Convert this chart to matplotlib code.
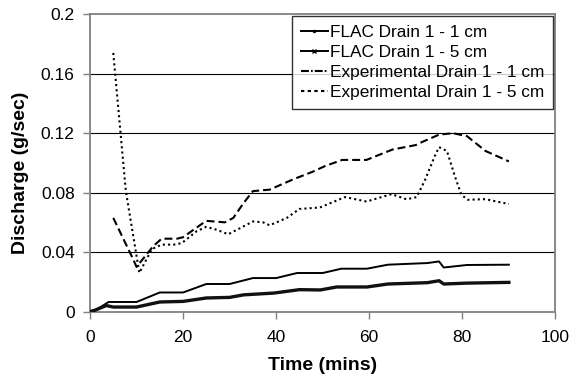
import matplotlib.pyplot as plt
from matplotlib.lines import Line2D

plt.rcParams['font.family'] = ['Liberation Sans', 'DejaVu Sans']

# FLAC model results
flac1_t = [0, 1, 4, 10, 15, 20, 25, 30, 35, 40, 44.5, 50, 54, 59.5, 64, 72.5, 75, 76, 81, 90]
flac1_v = [0, 0.0005, 0.0064, 0.0064, 0.0128, 0.0128, 0.0185, 0.0185, 0.0225, 0.0225,
           0.0259, 0.0259, 0.0288, 0.0288, 0.0315, 0.0326, 0.0337, 0.0296, 0.0313, 0.0315]

flac5_t = [0, 1, 3.5, 5, 10, 15, 20, 25, 30, 33, 39.5, 45, 49.5, 53, 59.5, 64, 72.5, 75, 76, 81, 90]
flac5_v = [0, 0.0008, 0.0040, 0.0030, 0.0030, 0.0064, 0.0068, 0.0091, 0.0095, 0.0112, 0.0124,
           0.0147, 0.0145, 0.0165, 0.0165, 0.0185, 0.0194, 0.0207, 0.0185, 0.0191, 0.0196]

# experimental results
exp1_t = [5, 9.3, 10, 13.6, 15.4, 18.7, 20, 23.6, 25, 29, 30.8, 33, 35, 38.6, 43.7, 47.8,
          50.6, 54.2, 59.4, 65, 70, 71.3, 75, 78, 81, 85, 90]
exp1_v = [0.063, 0.035, 0.030, 0.044, 0.049, 0.049, 0.050, 0.058, 0.061, 0.060, 0.063, 0.073,
          0.081, 0.082, 0.089, 0.094, 0.098, 0.102, 0.102, 0.109, 0.112, 0.114, 0.119, 0.120,
          0.118, 0.108, 0.101]

exp5_t = [5, 7.7, 10.6, 13.3, 15.4, 18, 19.7, 22.9, 25, 27.2, 29.7, 32.2, 35, 37.2, 38.6, 42.3,
          45, 49.4, 54.8, 59.4, 64.8, 68, 70.2, 72, 74, 75, 76.7, 78.4, 79.8, 81.2, 85, 90]
exp5_v = [0.174, 0.081, 0.026, 0.042, 0.045, 0.045, 0.046, 0.054, 0.057, 0.055, 0.052, 0.056,
          0.0606, 0.060, 0.058, 0.063, 0.069, 0.070, 0.077, 0.074, 0.079, 0.0755, 0.077, 0.0886,
          0.104, 0.1106, 0.108, 0.091, 0.0785, 0.0752, 0.0756, 0.0723]

labels = ['FLAC Drain 1 - 1 cm', 'FLAC Drain 1 - 5 cm',
          'Experimental Drain 1 - 1 cm', 'Experimental Drain 1 - 5 cm']
xticks = [0, 20, 40, 60, 80, 100]
yticks = [0, 0.04, 0.08, 0.12, 0.16, 0.2]
ytick_labels = ['0', '0.04', '0.08', '0.12', '0.16', '0.2']

fig = plt.figure(figsize=(5.78, 3.8), dpi=100)
ax = fig.add_axes([90 / 578, 1 - 311.5 / 380, (555.4 - 90) / 578, (311.5 - 14.3) / 380])

for y in yticks[1:-1]:
    ax.axhline(y, color='black', lw=0.8, zorder=1)

ax.plot(flac1_t, flac1_v, color='black', lw=1.4, zorder=3)
ax.plot(flac5_t, flac5_v, color='#111111', lw=2.4, zorder=3)
ax.plot(exp1_t, exp1_v, color='black', lw=1.5, dashes=(3.8, 1.9), zorder=3)
ax.plot(exp5_t, exp5_v, color='black', lw=1.5, dashes=(1.0, 1.5), zorder=3)

ax.set_xlim(0, 100)
ax.set_ylim(0, 0.2)
ax.set_xticks(xticks)
ax.set_xticklabels([str(x) for x in xticks])
ax.set_yticks(yticks)
ax.set_yticklabels(ytick_labels)
ax.tick_params(direction='out', length=5, width=1, color='#808080', labelsize=12.5)
ax.tick_params(axis='x', pad=8)
ax.tick_params(axis='y', pad=6)
for s in ax.spines.values():
    s.set_color('#808080')
    s.set_linewidth(1.3)

ax.set_xlabel('Time (mins)', fontsize=14, fontweight='bold')
ax.set_ylabel('Discharge (g/sec)', fontsize=14, fontweight='bold')
ax.xaxis.set_label_coords(0.5, -0.183)
ax.xaxis.label.set_va('center')
ax.yaxis.set_label_coords(-0.150, 0.465)
ax.yaxis.label.set_va('center')

handles = [
    Line2D([], [], color='black', lw=1.4, marker='.', markersize=3),
    Line2D([], [], color='black', lw=1.4, marker='x', markersize=3),
    Line2D([], [], color='black', lw=1.5, dashes=(3.8, 1.0, 0.8, 1.0)),
    Line2D([], [], color='black', lw=1.5, dashes=(1.6, 1.6)),
]
leg = fig.legend(handles, labels, loc='upper left', bbox_to_anchor=(292 / 578, 1 - 16 / 380),
                 bbox_transform=fig.transFigure, fontsize=12.4, frameon=True, fancybox=False,
                 handlelength=1.6, handletextpad=0.12, borderpad=0.5, labelspacing=0.3,
                 borderaxespad=0, numpoints=1)
leg.get_frame().set_edgecolor('black')
leg.get_frame().set_linewidth(1.0)

fig.savefig('out.png', dpi=100)
